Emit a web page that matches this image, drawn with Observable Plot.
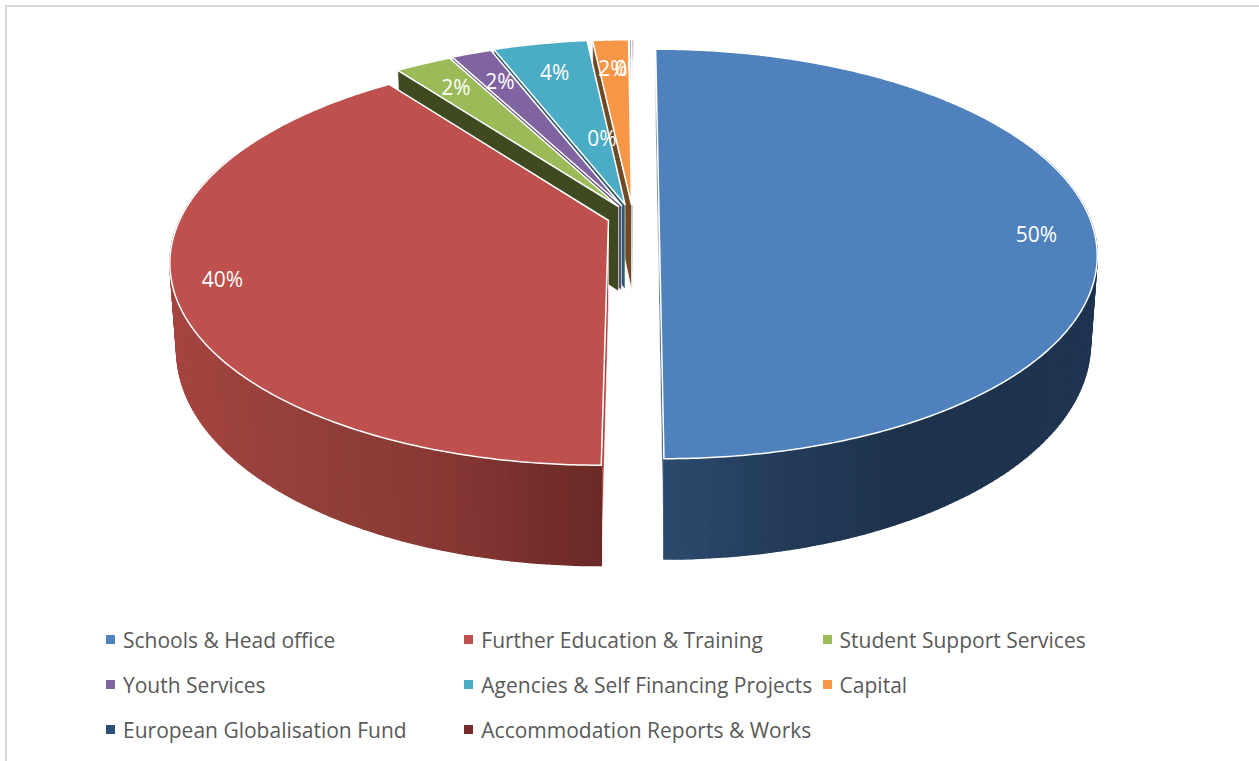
<!DOCTYPE html>
<html>
<head>
<meta charset="utf-8">
<script src="https://cdn.jsdelivr.net/npm/d3@7"></script>
<script src="https://cdn.jsdelivr.net/npm/@observablehq/plot@0.6"></script>
<style>
html,body{margin:0;padding:0;background:#fff;overflow:hidden}
#frame{position:absolute;left:5px;top:5px;right:-5px;bottom:-5px;border-left:2px solid #d9d9d9;border-top:2px solid #d9d9d9;pointer-events:none}
</style>
</head>
<body>
<div id="frame"></div>
<div id="host"></div>
<script>
// ---- data ----
const categories = ["Schools & Head office","Further Education & Training","Student Support Services","Youth Services","Agencies & Self Financing Projects","Capital","European Globalisation Fund","Accommodation Reports & Works"];
const shares = [50, 39.72, 2.5, 1.8, 4.2, 1.6, 0.09, 0.09];
const percentLabels = ["50%","40%","2%","2%","4%","2%","0%","0%"];
const colours = ["#4f81bd","#be504d","#9bbb59","#8064a2","#4bacc6","#f79646","#2c4d75","#772c2a"];
const faceColours = ["#2a4a70","#b0443f","#3f4a20","#5a4a78","#2b5c6c","#6f4a25","#1c3049","#4a1c1a"];

// ---- 3D view of the exploded pie (unit disc -> picture plane) ----
const camera = {k:429, m:197, c:0.195, H:86, e:0.015, vanishX:638};
const explodeX = [658.5,608,618,621,624.5,631,632,632.5];
const explodeY = [213.5,220,206,205,204,204,204,204];
const labelAngle = [96.9,251.2,327.3,335.2,345.8,356.2,347.7,359.2];
const labelRadius = [0.867,0.893,0.806,0.783,0.788,0.792,0.361,0.791];

function project(i, u, v, z){
  const {k,m,c,H,e,vanishX} = camera;
  const s = c*(vanishX - explodeX[i]);
  const w = 1 + c*v + e*z;
  return {x: explodeX[i] + (k*u + s*v)/w, y: explodeY[i] + (-m*v + H*z)/w};
}
const rad = d => d*Math.PI/180;
const rim = (i,t,z) => project(i, Math.sin(rad(t)), Math.cos(rad(t)), z);

const starts = []; let acc = 0;
for (const s of shares){ starts.push(acc); acc += s*3.6; }
const ends = starts.map((a,i)=>a+shares[i]*3.6);

const marks = [];
function poly(points, opts){ points = [...points, points[0]]; marks.push(Plot.line(points,{x:"x",y:"y",curve:"linear",...opts})); }
function sideFace(i,t){
  poly([project(i,0,0,0), rim(i,t,0), rim(i,t,1), project(i,0,0,1)],
       {fill:faceColours[i], stroke:"white", strokeWidth:0.6});
}
function topFace(i){
  const pts=[project(i,0,0,0)];
  for(let t=starts[i]; t<ends[i]; t+=0.5) pts.push(rim(i,t,0));
  pts.push(rim(i,ends[i],0));
  poly(pts.map(p=>({...p,name:categories[i]})),{fill:"name",stroke:"white",strokeWidth:1.5});
}
function wall(i,t0,t1,ramp){
  for(let t=t0;t<t1;t+=1){
    const b=Math.min(t+1,t1), col=ramp(rim(i,t,1).x);
    poly([rim(i,t,0),rim(i,b,0),rim(i,b,1),rim(i,t,1)],{fill:col,stroke:col,strokeWidth:1.4});
  }
}
const ramp = (xs,cs) => d3.scaleLinear().domain(xs).range(cs).interpolate(d3.interpolateRgb).clamp(true);

// painter's order: back-right slivers first, then leftwards
for(const i of [7,6,5,4,3,2]){ sideFace(i,starts[i]); topFace(i); }
// Further Education
sideFace(1,starts[1]);
wall(1,starts[1],290,ramp([180,300,450,600],["#a5443f","#94403c","#873833","#6b2926"]));
topFace(1);
// Schools
sideFace(0,starts[0]); sideFace(0,ends[0]);
wall(0,70,ends[0],ramp([665,800,900,1090],["#2c4a6e","#223a57","#1e324c","#1f3450"]));
topFace(0);

const labels = categories.map((c,i)=>{
  const t=labelAngle[i], r=labelRadius[i];
  return {...project(i, r*Math.sin(rad(t)), r*Math.cos(rad(t)), 0), text:percentLabels[i]};
});
marks.push(Plot.text(labels,{x:"x",y:"y",text:"text",fill:"white",fontSize:21,fontFamily:"Open Sans",lineAnchor:"middle"}));

const chart = Plot.plot({
  width:1259, height:617, margin:0,
  x:{domain:[0,1259],range:[0,1259],axis:null},
  y:{domain:[0,617],range:[0,617],axis:null},
  color:{type:"ordinal",domain:categories,range:colours},
  marks
});
chart.style.display="block";
chart.style.background="transparent";
const host=document.getElementById("host");
host.appendChild(chart);

const legend = chart.legend("color",{swatchSize:9});
legend.style.cssText="display:grid;grid-template-columns:repeat(3,358.3px);grid-auto-rows:45px;margin:0 0 0 106px;min-height:0;font:21px 'Open Sans';color:#595959;align-items:center";
legend.querySelectorAll("span").forEach(s=>{s.style.cssText="display:inline-flex;align-items:center;margin:0;white-space:nowrap;font:21px 'Open Sans';color:#595959"});
legend.querySelectorAll("svg").forEach(s=>{s.style.marginRight="8px";s.style.flexShrink="0"});
host.appendChild(legend);
</script>
</body>
</html>
